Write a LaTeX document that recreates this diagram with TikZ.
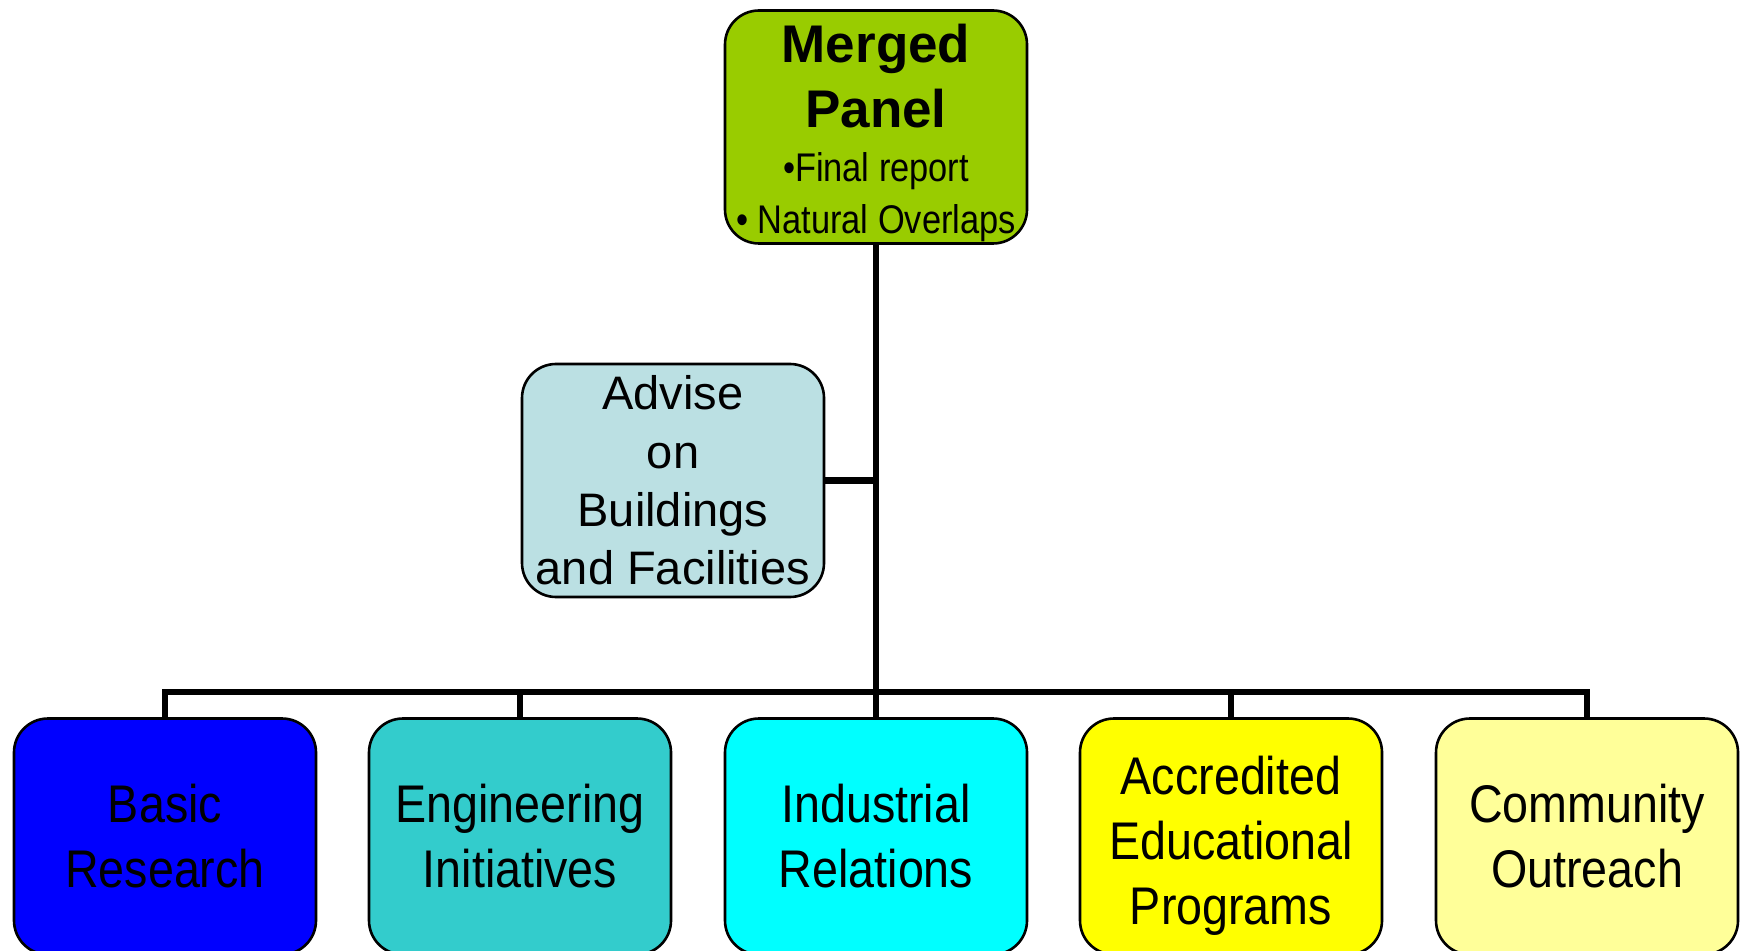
\documentclass[tikz,border=0pt]{standalone}
\usepackage{fontspec}
\setmainfont{Liberation Sans}
\newfontfamily\narrowfont[FakeStretch=0.88]{Liberation Sans}
\newfontfamily\narrowerfont[FakeStretch=0.86]{Liberation Sans}
\definecolor{panelgreen}{HTML}{99CC00}
\definecolor{adviseblue}{HTML}{BBE0E3}
\definecolor{basicblue}{HTML}{0000FF}
\definecolor{engteal}{HTML}{33CCCC}
\definecolor{indcyan}{HTML}{00FFFF}
\definecolor{accyellow}{HTML}{FFFF00}
\definecolor{commyellow}{HTML}{FFFF99}
\begin{document}
\begin{tikzpicture}[x=0.5pt,y=-0.5pt,line join=miter,
	box/.style={draw,line width=1.3pt,rounded corners=17pt,inner sep=0pt,align=center,
		minimum width=151pt,minimum height=116.5pt},
	unit/.style={box,minimum height=118pt,font=\narrowfont\fontsize{26.5}{32.5}\selectfont},
	link/.style={line width=3.2pt}]
			\useasboundingbox (0,0) rectangle (1748,951);
			\node[box,fill=panelgreen,font=\narrowerfont\fontsize{20}{26}\selectfont] (panel) at (876,127)
				{{\normalfont\bfseries\fontsize{26.5}{26}\selectfont\rule{0pt}{25.6pt}Merged}\\[6.5pt]
				{\normalfont\bfseries\fontsize{26.5}{26}\selectfont Panel}\\[1pt]
				{\textbullet Final report}\\
				{\textbullet\ Natural Overlaps}};
			\node[box,fill=adviseblue,font=\fontsize{23.5}{29.2}\selectfont] (advise) at (673,480.5)
				{Advise\\on\\Buildings\\and Facilities};
			\path (876,692) coordinate (bus);
			\foreach \n/\x/\c/\t in {basic/165/basicblue/{Basic\\Research},
				eng/520/engteal/{Engineering\\Initiatives},
				ind/876/indcyan/{Industrial\\Relations},
				acc/1231/accyellow/{\rule{0pt}{28pt}Accredited\\Educational\\Programs},
				comm/1587/commyellow/{Community\\Outreach}}
			\node[unit,fill=\c] (\n) at (\x,836.5) {\t};
			% trunk and bus
			\draw[link] (panel) -- (bus) -- (ind);
			\draw[link] (advise) -- (advise -| bus);
			\draw[link] (basic) |- (bus) -| (comm);
			\foreach \n in {eng,acc}
			\draw[link] (\n) -- (\n |- bus);
	\end{tikzpicture}
\end{document}
